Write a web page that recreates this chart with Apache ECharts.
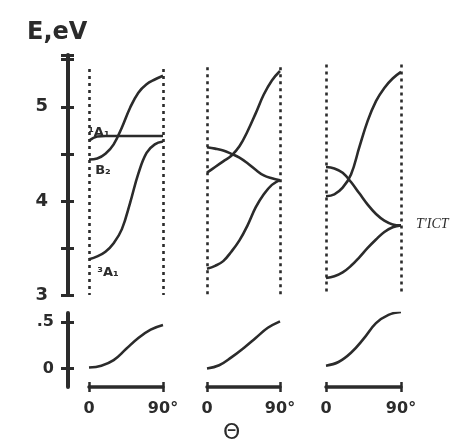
<!DOCTYPE html>
<html><head><meta charset="utf-8">
<script src="https://cdn.jsdelivr.net/npm/echarts@6/dist/echarts.min.js"></script>
<style>html,body{margin:0;padding:0;background:#fff}#c{width:459px;height:442px}</style>
</head><body><div id="c"></div>
<script>
// ---- Data (θ in degrees, E in eV) ----
const theta = [0,10,20,30,40,50,60,70,80,90];
// Panel 1
const p1_B2   = [4.44,4.45,4.50,4.60,4.78,4.99,5.15,5.24,5.29,5.33];
const p1_1A1  = [4.64,4.685,4.69,4.69,4.69,4.69,4.69,4.69,4.69,4.69];
const p1_3A1  = [3.38,3.41,3.46,3.55,3.70,3.98,4.29,4.51,4.60,4.63];
// Panel 2
const p2_up   = [4.30,4.36,4.42,4.48,4.58,4.74,4.93,5.13,5.28,5.38];
const p2_mid  = [4.57,4.555,4.535,4.50,4.46,4.40,4.33,4.27,4.24,4.22];
const p2_low  = [3.28,3.31,3.36,3.46,3.58,3.74,3.93,4.07,4.17,4.22];
// Panel 3
const p3_up   = [4.05,4.07,4.14,4.28,4.57,4.85,5.06,5.20,5.30,5.37];
const p3_mid  = [4.36,4.345,4.30,4.20,4.08,3.96,3.86,3.79,3.75,3.74];
const p3_low  = [3.18,3.20,3.24,3.31,3.40,3.50,3.59,3.67,3.72,3.74];
// Lower panels
const thetaLow = [0,15,30,45,60,75,90];
const q1 = [0.01,0.03,0.09,0.21,0.33,0.42,0.47];
const q2 = [0.00,0.035,0.12,0.22,0.33,0.44,0.51];
const q3 = [0.03,0.07,0.17,0.32,0.49,0.58,0.61];
// Axis ticks / labels
const lowTicks = [0,0.5];
const xTicks = [0,90];
const stateLabels = ['¹A₁','B₂','³A₁','T\'ICT'];

const ink = '#2b2b2b';
const chart = echarts.init(document.getElementById('c'));
const zip = (xs,ys)=>xs.map((x,i)=>[x,ys[i]]);

const gridTop = [{left:89,width:74},{left:207,width:73},{left:326,width:75}];
const grids = [];
gridTop.forEach(g=>grids.push({left:g.left,width:g.width,top:55,height:240}));
gridTop.forEach(g=>grids.push({left:g.left,width:g.width,top:313,height:74}));

const xAxes = [];
for(let i=0;i<3;i++) xAxes.push({gridIndex:i,type:'value',min:0,max:90,show:false});
for(let i=3;i<6;i++) xAxes.push({gridIndex:i,type:'value',min:0,max:90,position:'bottom',
  axisLine:{show:true,onZero:false,lineStyle:{color:ink,width:3.5}},
  axisTick:{show:true,customValues:xTicks,length:5,lineStyle:{color:ink,width:2.5}},
  axisLabel:{show:true,customValues:xTicks,margin:14,color:ink,fontSize:16,fontWeight:'bold',fontFamily:'DejaVu Sans',
    formatter:v=>v===0?'0':'90°'},
  splitLine:{show:false}});
for(let i=3;i<6;i++) xAxes.push({gridIndex:i,type:'value',min:0,max:90,position:'bottom',
  axisLine:{show:false,onZero:false},
  axisTick:{show:true,inside:true,customValues:xTicks,length:5,lineStyle:{color:ink,width:2.5}},
  axisLabel:{show:false},splitLine:{show:false}});

const yAxes = [];
yAxes.push({gridIndex:0,type:'value',position:'left',min:3,max:5.55,interval:0.5,offset:21,
  axisLine:{show:true,onZero:false,lineStyle:{color:ink,width:4}},
  axisTick:{show:true,length:7,lineStyle:{color:ink,width:3}},
  axisLabel:{margin:20,color:ink,fontSize:18,fontWeight:'bold',fontFamily:'DejaVu Sans',
    formatter:v=>(Math.abs(v-Math.round(v))<1e-6 && v<5.5)?String(Math.round(v)):''},
  splitLine:{show:false}});
yAxes.push({gridIndex:0,type:'value',position:'left',min:3,max:5.55,interval:0.5,offset:21,
  axisLine:{show:false,onZero:false},axisTick:{show:true,inside:true,length:6,lineStyle:{color:ink,width:3}},
  axisLabel:{show:false},splitLine:{show:false}});
yAxes.push({gridIndex:1,type:'value',min:3,max:5.55,show:false});
yAxes.push({gridIndex:2,type:'value',min:3,max:5.55,show:false});
yAxes.push({gridIndex:3,type:'value',position:'left',min:-0.2,max:0.6,offset:21,
  axisLine:{show:true,onZero:false,lineStyle:{color:ink,width:4}},
  axisTick:{show:true,customValues:lowTicks,length:7,lineStyle:{color:ink,width:3}},
  axisLabel:{customValues:lowTicks,margin:14,color:ink,fontSize:16,fontWeight:'bold',fontFamily:'DejaVu Sans',
    formatter:v=>v===0?'0':'.5'},
  splitLine:{show:false}});
yAxes.push({gridIndex:3,type:'value',position:'left',min:-0.2,max:0.6,offset:21,
  axisLine:{show:false,onZero:false},axisTick:{show:true,inside:true,customValues:lowTicks,length:6,lineStyle:{color:ink,width:3}},
  axisLabel:{show:false},splitLine:{show:false}});
yAxes.push({gridIndex:4,type:'value',min:-0.2,max:0.6,show:false});
yAxes.push({gridIndex:5,type:'value',min:-0.2,max:0.6,show:false});

const dotStyle = {color:ink,width:2.6,type:[3,4]};
function vlines(top,bottom){
  return {silent:true,symbol:'none',label:{show:false},lineStyle:dotStyle,
    data:[[{coord:[0,top]},{coord:[0,bottom]}],[{coord:[90,top]},{coord:[90,bottom]}]]};
}
function curve(xs,ys,xi,yi,extra){
  return Object.assign({type:'line',data:zip(xs,ys),xAxisIndex:xi,yAxisIndex:yi,smooth:0.4,symbol:'none',
    lineStyle:{color:ink,width:2.6},silent:true,animation:false},extra||{});
}
function mp(coord,text,opts){
  return {silent:true,symbol:'circle',symbolSize:0,
    data:[{coord:coord,label:Object.assign({show:true,formatter:text,color:ink,fontSize:13,fontWeight:'bold',fontFamily:'DejaVu Sans',position:'inside'},opts||{})}]};
}

const series = [
  curve(theta,p1_B2,0,0,{markLine:vlines(5.40,3),markPoint:mp([17,4.32],stateLabels[1])}),
  curve(theta,p1_1A1,0,0,{markPoint:mp([12,4.72],stateLabels[0])}),
  curve(theta,p1_3A1,0,0,{markPoint:mp([23,3.24],stateLabels[2])}),
  curve(theta,p2_up,1,2,{markLine:vlines(5.42,3)}),
  curve(theta,p2_mid,1,2),
  curve(theta,p2_low,1,2),
  curve(theta,p3_up,2,3,{markLine:vlines(5.45,3)}),
  curve(theta,p3_mid,2,3,{markPoint:mp([90,3.75],stateLabels[3],{position:'right',distance:15,fontWeight:'normal',fontStyle:'italic',fontFamily:'Liberation Serif',fontSize:14})}),
  curve(theta,p3_low,2,3),
  curve(thetaLow,q1,3,4,{markLine:vlines(0.62,-0.2)}),
  curve(thetaLow,q2,4,6,{markLine:vlines(0.62,-0.2)}),
  curve(thetaLow,q3,5,7,{markLine:vlines(0.66,-0.2)})
];

chart.setOption({
  animation:false,
  title:[
    {text:'E,eV',left:22,top:16,textStyle:{color:ink,fontSize:24,fontWeight:'bold',fontFamily:'DejaVu Sans'}},
    {text:'Θ',left:218,top:417,textStyle:{color:ink,fontSize:22,fontWeight:'normal',fontFamily:'DejaVu Sans'}}
  ],
  grid:grids, xAxis:xAxes, yAxis:yAxes, series:series
});
</script></body></html>
